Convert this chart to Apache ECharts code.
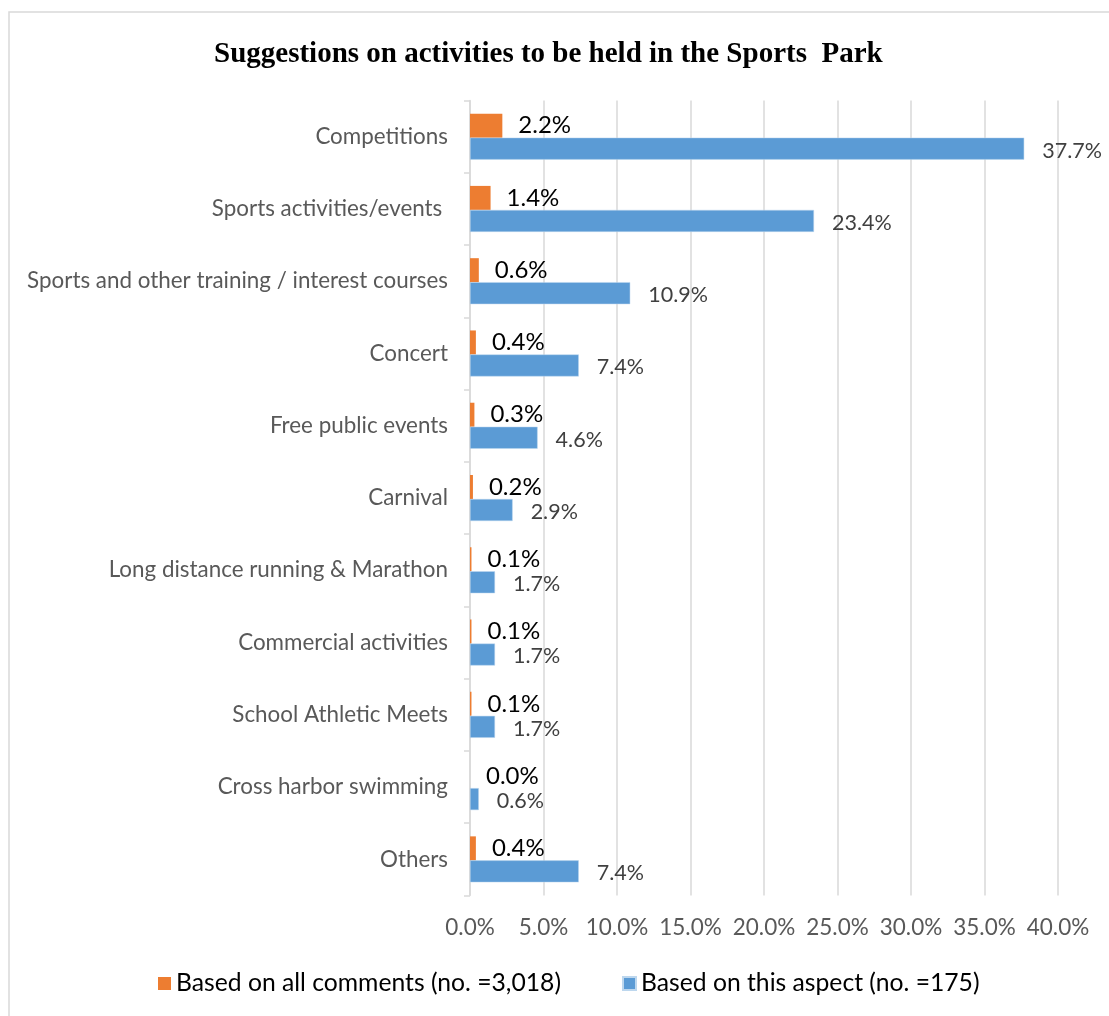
<!DOCTYPE html>
<html>
<head>
<meta charset="utf-8">
<script src="https://cdn.jsdelivr.net/npm/echarts@6/dist/echarts.min.js"></script>
<style>
html,body{margin:0;padding:0;background:#fff;}
#chart{width:1109px;height:1016px;}
</style>
</head>
<body>
<div id="chart"></div>
<script>
const titleText = 'Suggestions on activities to be held in the Sports  Park';
const categories = [
  'Competitions',
  'Sports activities/events ',
  'Sports and other training / interest courses',
  'Concert',
  'Free public events',
  'Carnival',
  'Long distance running & Marathon',
  'Commercial activities',
  'School Athletic Meets',
  'Cross harbor swimming',
  'Others'
];
const seriesNames = ['Based on all comments (no. =3,018)', 'Based on this aspect (no. =175)'];
const allComments = [2.2, 1.4, 0.6, 0.4, 0.3, 0.2, 0.1, 0.1, 0.1, 0.0, 0.4];
const thisAspect = [37.7, 23.4, 10.9, 7.4, 4.6, 2.9, 1.7, 1.7, 1.7, 0.6, 7.4];
const xTicks = [0, 5, 10, 15, 20, 25, 30, 35, 40];

const FONT = 'Lato';
const chart = echarts.init(document.getElementById('chart'), null, {renderer: 'canvas'});
chart.setOption({
  backgroundColor: '#ffffff',
  animation: false,
  title: {
    text: titleText,
    left: 209,
    top: 35,
    textStyle: {fontFamily: 'Liberation Serif', fontWeight: 'bold', fontSize: 29, color: '#000'}
  },
  graphic: [{
    type: 'rect',
    shape: {x: 9, y: 12, width: 1200, height: 1100},
    style: {fill: 'none', stroke: '#d9d9d9', lineWidth: 1.5},
    silent: true
  }],
  legend: {
    bottom: 15,
    left: 153,
    itemWidth: 13,
    itemHeight: 13,
    itemGap: 61,
    icon: 'rect',
    textStyle: {fontFamily: FONT, fontSize: 24.7, color: '#000'},
    data: seriesNames
  },
  grid: {left: 470, right: 51, top: 100.5, bottom: 120.5, containLabel: false},
  xAxis: {
    type: 'value',
    min: xTicks[0],
    max: xTicks[xTicks.length - 1],
    interval: xTicks[1] - xTicks[0],
    axisLine: {show: false},
    axisTick: {show: false},
    splitLine: {show: true, lineStyle: {color: '#d9d9d9', width: 1.5}},
    axisLabel: {
      margin: 21,
      fontFamily: FONT, fontSize: 22.5, color: '#595959',
      formatter: v => v.toFixed(1) + '%'
    }
  },
  yAxis: {
    type: 'category',
    inverse: true,
    data: categories,
    axisLine: {show: true, lineStyle: {color: '#d9d9d9', width: 1.5}},
    axisTick: {show: true, length: 6, lineStyle: {color: '#d9d9d9', width: 1.5}},
    axisLabel: {margin: 22, fontFamily: FONT, fontSize: 22.4, color: '#595959'}
  },
  series: [
    {
      name: seriesNames[0],
      type: 'bar',
      data: allComments,
      barWidth: 24,
      barGap: '0%',
      itemStyle: {color: '#ed7d31'},
      label: {
        show: true, position: 'right', distance: 16, offset: [0, 0],
        fontFamily: FONT, fontSize: 24, color: '#000',
        formatter: p => p.value.toFixed(1) + '%'
      }
    },
    {
      name: seriesNames[1],
      type: 'bar',
      data: thisAspect,
      barWidth: 22,
      barGap: '0%',
      itemStyle: {color: '#5b9bd5', borderColor: '#bdd7ee', borderWidth: 0.5},
      label: {
        show: true, position: 'right', distance: 18, offset: [0, 2],
        fontFamily: FONT, fontSize: 21.5, color: '#404040',
        formatter: p => p.value.toFixed(1) + '%'
      }
    }
  ]
});
</script>
</body>
</html>
